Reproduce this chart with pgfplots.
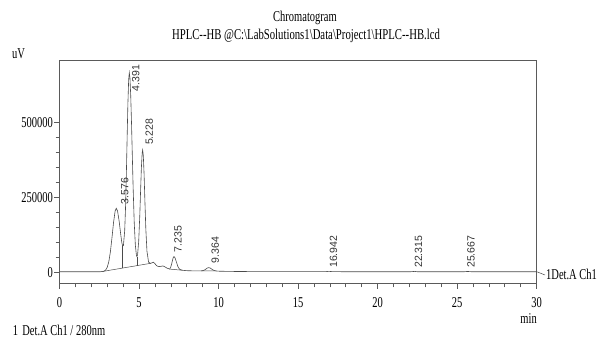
\documentclass[border=0pt]{standalone}
\usepackage{pgfplots}
\pgfplotsset{compat=1.18}
\usepackage{fontspec}
\setmainfont{Liberation Serif}
\newfontfamily\lblfont{Liberation Sans}
\usepackage{graphicx}
\newcommand\sq[1]{\scalebox{0.7}[1]{#1}}
\newcommand\tf{\fontsize{15bp}{15bp}\selectfont}
\definecolor{trace}{HTML}{4A4A4A}
\definecolor{frame}{HTML}{5A5A5A}

\begin{document}
\begin{tikzpicture}[x=1bp,y=1bp]
\begin{axis}[
  width=477bp, height=222.6bp, scale only axis,
  xmin=0, xmax=30, ymin=-37000, ymax=707000,
  xtick={0,5,...,30}, ytick={0,250000,500000},
  minor x tick num=4, minor y tick num=4,
  tick align=outside, tick pos=left,
  major tick length=5.5bp, minor tick length=4bp,
  axis line style={frame, line width=0.75bp},
  every tick/.style={frame, line width=0.6bp},
  scaled y ticks=false, scaled x ticks=false,
  xticklabel={\sq{\tf\pgfmathprintnumber[assume math mode=true,fixed,1000 sep={}]{\tick}}},
  yticklabel={\sq{\tf\pgfmathprintnumber[assume math mode=true,fixed,1000 sep={}]{\tick}}},
  x tick label style={anchor=north, inner sep=0pt, yshift=-8.5bp},
  y tick label style={anchor=east, inner sep=0pt, xshift=-1bp},
  clip=false,
]
\coordinate (O) at (rel axis cs:0,0);
\addplot[trace, line width=0.6bp] coordinates {
(0,1500) (2.4,1500) (2.6,1800) (2.8,3500) (2.9,7200) (3.0,16200) (3.1,34900)
(3.2,68100) (3.3,115300) (3.4,166700) (3.5,205000) (3.57,213600) (3.65,204800)
(3.75,171300) (3.85,126600) (3.92,99000) (3.97,87500) (4.02,89000) (4.1,138700)
(4.15,210900) (4.2,315900) (4.25,441200) (4.3,561400) (4.35,644100) (4.39,666600)
(4.43,650300) (4.48,589800) (4.53,496700) (4.58,389100) (4.63,284500) (4.7,165800)
(4.77,90400) (4.84,55800) (4.87,52400) (4.91,58400) (4.98,102000) (5.05,190700)
(5.1,272100) (5.15,349500) (5.2,399000) (5.23,408300) (5.27,390700) (5.32,327200)
(5.37,240300) (5.43,143300) (5.5,70600) (5.6,34300) (5.7,29800) (5.8,31000)
(5.9,33500) (6.0,29000) (6.1,22000) (6.23,18600) (6.35,19500) (6.5,21000)
(6.6,19000) (6.75,14000) (6.93,10500) (7.0,18100) (7.05,26800) (7.1,38200)
(7.15,48500) (7.2,52500) (7.27,47700) (7.35,34600) (7.45,18500) (7.55,10000)
(7.71,6700) (8.0,5200) (8.5,4500) (8.9,4300) (9.0,5100) (9.1,7000) (9.2,10300)
(9.3,14100) (9.39,15500) (9.48,14000) (9.58,10200) (9.68,6800) (9.8,4600)
(10.0,3500) (10.5,3000) (11,2600) (12,2200) (14,1900) (16.7,1800) (16.94,3000)
(17.2,1800) (22.1,1700) (22.32,2800) (22.5,1700) (25.45,1700) (25.67,2600)
(25.9,1700) (30,1700)
};
% integration baselines and drop lines
\addplot[trace, line width=0.5bp] coordinates {(2.7,2500) (5.75,30000)};
\addplot[trace, line width=0.5bp] coordinates {(3.97,13400) (3.97,87500)};
\addplot[trace, line width=0.5bp] coordinates {(4.87,21500) (4.87,52400)};
\addplot[trace, line width=0.5bp] coordinates {(6.93,10500) (7.71,6700)};
\addplot[trace, line width=0.5bp] coordinates {(8.9,4300) (9.85,4400)};
% peak labels
\begin{scope}[every node/.style={rotate=90, anchor=west, inner sep=0pt, font=\lblfont\fontsize{10.5bp}{10.5bp}\selectfont, text=black!80}]
\node at (axis cs:4.10,227000) {3.576};
\node at (axis cs:4.80,604000) {4.391};
\node at (axis cs:5.64,425000) {5.228};
\node at (axis cs:7.46,66000) {7.235};
\node at (axis cs:9.79,30000) {9.364};
\node at (axis cs:17.23,14400) {16.942};
\node at (axis cs:22.58,14400) {22.315};
\node at (axis cs:25.88,14400) {25.667};
\end{scope}
\end{axis}
\pgfresetboundingbox
\begin{scope}[shift={(O)}, xshift=-59.5bp, yshift=-59.7bp]
\path[use as bounding box] (0,0) rectangle (599,343);
\draw[trace, line width=0.5bp] (536.7,71.3) -- (545,68);
\node[anchor=west, inner sep=0pt] at (546,68.5) {\sq{\tf 1Det.A Ch1}};
\node[anchor=east, inner sep=0pt] at (537,24) {\sq{\tf min}};
\node[inner sep=0pt] at (18.5,289) {\sq{\tf uV}};
\node[inner sep=0pt] at (305,325) {\sq{\tf Chromatogram}};
\node[inner sep=0pt] at (306,307) {\scalebox{0.715}[1]{\tf HPLC-{}-HB @C:\textbackslash LabSolutions1\textbackslash Data\textbackslash Project1\textbackslash HPLC-{}-HB.lcd}};
\node[anchor=west, inner sep=0pt] at (12.7,13) {\sq{\tf 1\hspace{6bp}Det.A Ch1 / 280nm}};
\end{scope}
\end{tikzpicture}
\end{document}
